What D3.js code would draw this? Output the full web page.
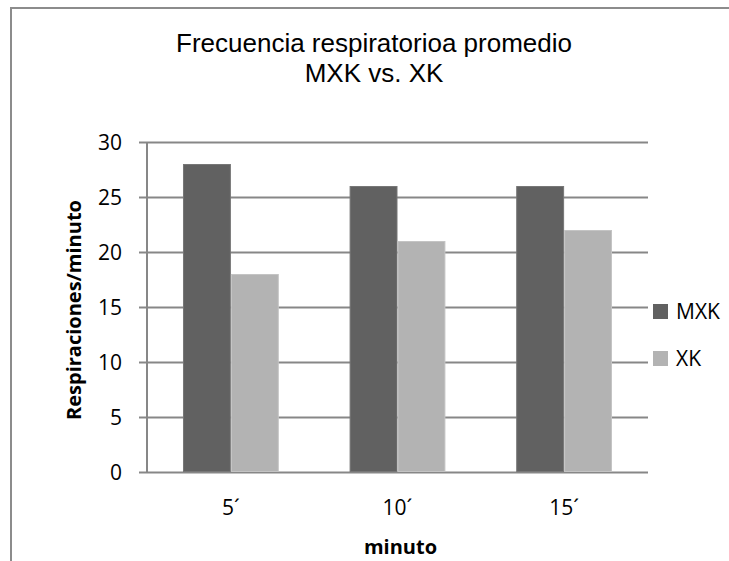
<!DOCTYPE html>
<html>
<head>
<meta charset="utf-8">
<script src="https://cdn.jsdelivr.net/npm/d3@7"></script>
<style>
  html, body { margin: 0; background: #fff; overflow: hidden; }
  svg { display: block; }
  text { font-family: "Open Sans", sans-serif; fill: #000; }
</style>
</head>
<body>
<svg id="vis"></svg>
<script>
const svg = d3.select("#vis").attr("width", 729).attr("height", 561);

const categories = ["5´", "10´", "15´"];
const seriesNames = ["MXK", "XK"];
const mxkValues = [28, 26, 26];
const xkValues = [18, 21, 22];
const yTicks = [0, 5, 10, 15, 20, 25, 30];

const COLORS = {MXK: "#616161", XK: "#b3b3b3"};
const STROKES = {MXK: "#777777", XK: "#c4c4c4"};
const GRID = "#878787";

const plotLeft = 147, plotRight = 648, plotTop = 142, plotBottom = 472;

let xscale = d3.scaleBand()
    .domain(categories)
    .range([plotLeft, plotRight])
    .paddingInner(0.425)
    .paddingOuter(0.216);

let inner = d3.scaleBand()
    .domain(seriesNames)
    .range([0, xscale.bandwidth()]);

let yscale = d3.scaleLinear()
    .domain([0, 30])
    .range([plotBottom, plotTop]);


function main() {
    // outer frame: only the top and left edges are in view
    svg.append("path")
        .attr("d", "M11,561 V8 H729")
        .attr("fill", "none")
        .attr("stroke", "#8c8c8c")
        .attr("stroke-width", 2);

    // title
    const title = svg.append("text")
        .attr("text-anchor", "middle")
        .style("font-family", "'Liberation Sans', Arial, sans-serif")
        .style("font-size", "26px");
    title.append("tspan").attr("x", 374).attr("y", 52).text("Frecuencia respiratorioa promedio");
    title.append("tspan").attr("x", 374).attr("y", 82).text("MXK vs. XK");

    drawAxes();
    drawBars();
    drawLegend();
}


function drawAxes() {
    const yAxis = svg.append("g")
        .attr("transform", `translate(${plotLeft},0)`)
        .call(d3.axisLeft(yscale).tickValues(yTicks).tickSize(0).tickPadding(25));
    yAxis.select(".domain").remove();
    yAxis.selectAll(".tick line")
        .attr("x1", -8).attr("x2", plotRight - plotLeft)
        .attr("stroke", GRID).attr("stroke-width", 2);
    yAxis.selectAll(".tick text")
        .style("font-size", "21px")
        .attr("dy", "0.36em");

    svg.append("line")
        .attr("x1", plotLeft).attr("x2", plotLeft)
        .attr("y1", plotTop).attr("y2", plotBottom)
        .attr("stroke", GRID).attr("stroke-width", 2);

    const xAxis = svg.append("g")
        .attr("transform", `translate(0,${plotBottom})`)
        .call(d3.axisBottom(xscale).tickSize(0).tickPadding(0));
    xAxis.select(".domain").remove();
    xAxis.selectAll(".tick text")
        .attr("y", 43).attr("dy", 0)
        .style("font-size", "21px");

    svg.append("text")
        .attr("x", (plotLeft + plotRight) / 2 + 3).attr("y", 554)
        .attr("text-anchor", "middle")
        .style("font-size", "20px").style("font-weight", "bold")
        .text("minuto");

    svg.append("text")
        .attr("transform", `translate(81,${(plotTop + plotBottom) / 2 + 3}) rotate(-90)`)
        .attr("text-anchor", "middle")
        .style("font-size", "20px").style("font-weight", "bold")
        .text("Respiraciones/minuto");
}


function drawBars() {
    const rows = categories.map((c, i) => ({cat: c, MXK: mxkValues[i], XK: xkValues[i]}));
    const groups = svg.selectAll(".grp").data(rows).join("g")
        .attr("class", "grp")
        .attr("transform", d => `translate(${xscale(d.cat)},0)`);
    groups.selectAll("rect")
        .data(d => seriesNames.map(s => ({s: s, v: d[s]})))
        .join("rect")
        .attr("x", d => inner(d.s) + 0.5)
        .attr("y", d => yscale(d.v) + 0.5)
        .attr("width", inner.bandwidth() - 1)
        .attr("height", d => yscale(0) - yscale(d.v) - 1)
        .attr("fill", d => COLORS[d.s])
        .attr("stroke", d => STROKES[d.s])
        .attr("stroke-width", 1);
}


function drawLegend() {
    const lg = svg.selectAll(".lg").data(seriesNames).join("g")
        .attr("class", "lg")
        .attr("transform", (d, i) => `translate(653,${304 + i * 47})`);
    lg.append("rect")
        .attr("width", 15).attr("height", 15)
        .attr("fill", d => COLORS[d]);
    lg.append("text")
        .attr("x", 23).attr("y", 15)
        .style("font-size", "21px")
        .text(d => d);
}


main();
</script>
</body>
</html>
